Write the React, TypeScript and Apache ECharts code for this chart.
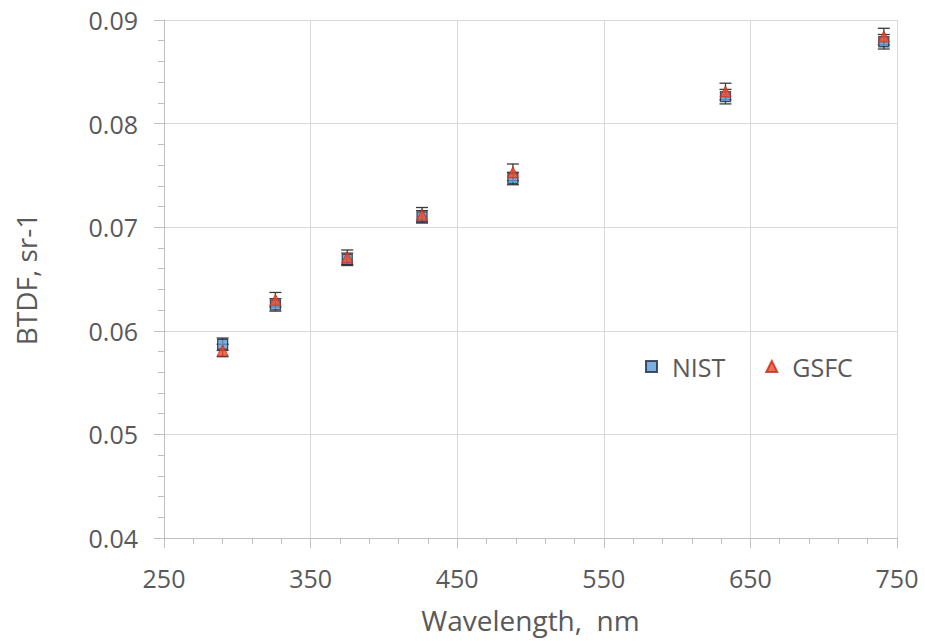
import React, { useEffect, useRef } from "react";
import * as echarts from "echarts";

const wavelengths = [290, 326, 375, 426, 488, 633, 741];
const nistValues = [0.0587, 0.0625, 0.0669, 0.071, 0.0747, 0.0826, 0.0879];
const gsfcValues = [0.0581, 0.063, 0.0671, 0.0712, 0.0753, 0.0831, 0.0884];
const nistUnc = [0.0006, 0.0006, 0.0006, 0.0006, 0.0006, 0.0007, 0.0007];
const gsfcUnc = [0.0006, 0.0007, 0.0007, 0.0007, 0.0008, 0.0008, 0.0008];

const FONT = "'Open Sans', 'Noto Sans', sans-serif";
const TXT = "#595959";

function errorSeries(vals: number[], unc: number[], name: string) {
  return {
    type: "custom",
    name,
    z: 1,
    silent: true,
    data: wavelengths.map((w, i) => [w, vals[i] - unc[i], vals[i] + unc[i]]),
    encode: { x: 0, y: [1, 2] },
    renderItem: (params: any, api: any) => {
      const x = api.value(0);
      const lo = api.coord([x, api.value(1)]);
      const hi = api.coord([x, api.value(2)]);
      const hw = 6;
      const st = { stroke: "#3a3a3a", lineWidth: 1.3 };
      return {
        type: "group",
        children: [
          { type: "line", shape: { x1: hi[0], y1: hi[1], x2: lo[0], y2: lo[1] }, style: st },
          { type: "line", shape: { x1: hi[0] - hw, y1: hi[1], x2: hi[0] + hw, y2: hi[1] }, style: st },
          { type: "line", shape: { x1: lo[0] - hw, y1: lo[1], x2: lo[0] + hw, y2: lo[1] }, style: st },
        ],
      };
    },
  };
}

export default function App() {
  const ref = useRef<HTMLDivElement>(null);
  useEffect(() => {
    if (!ref.current) return;
    const chart = echarts.init(ref.current, null, { renderer: "svg" });
    chart.setOption({
      animation: false,
      backgroundColor: "#ffffff",
      grid: { left: 164, right: 28, top: 20, bottom: 103, containLabel: false },
      legend: {
        data: ["NIST", "GSFC"],
        left: 640,
        top: 349,
        itemWidth: 11,
        itemHeight: 11,
        itemGap: 40,
        textStyle: { fontFamily: FONT, fontSize: 25, color: TXT, padding: [0, 0, 0, 10] },
      },
      xAxis: {
        type: "value",
        min: 250,
        max: 750,
        interval: 100,
        name: "Wavelength,  nm",
        nameLocation: "middle",
        nameGap: 68,
        nameTextStyle: { fontFamily: FONT, fontSize: 28, color: TXT },
        axisLine: { show: true, lineStyle: { color: "#bfbfbf", width: 1 } },
        axisTick: { show: true, length: 10, lineStyle: { color: "#bfbfbf" } },
        minorTick: { show: true, splitNumber: 5, length: 6, lineStyle: { color: "#bfbfbf" } },
        axisLabel: { fontFamily: FONT, fontSize: 25, color: TXT, margin: 27 },
        splitLine: { show: true, lineStyle: { color: "#d9d9d9", width: 1 } },
      },
      yAxis: {
        type: "value",
        min: 0.04,
        max: 0.09,
        interval: 0.01,
        name: "BTDF, sr-1",
        nameLocation: "middle",
        nameGap: 124,
        nameRotate: 90,
        nameTextStyle: { fontFamily: FONT, fontSize: 28, color: TXT },
        axisLine: { show: true, lineStyle: { color: "#bfbfbf", width: 1 } },
        axisTick: { show: true, length: 10, lineStyle: { color: "#bfbfbf" } },
        minorTick: { show: true, splitNumber: 5, length: 6, lineStyle: { color: "#bfbfbf" } },
        axisLabel: {
          fontFamily: FONT,
          fontSize: 25,
          color: TXT,
          margin: 26,
          formatter: (v: number) => v.toFixed(2),
        },
        splitLine: { show: true, lineStyle: { color: "#d9d9d9", width: 1 } },
      },
      series: [
        errorSeries(nistValues, nistUnc, "NIST err"),
        errorSeries(gsfcValues, gsfcUnc, "GSFC err"),
        {
          type: "scatter",
          name: "NIST",
          z: 3,
          symbol: "rect",
          symbolSize: 10,
          itemStyle: { color: "#5b9bd5", borderColor: "#1c2a44", borderWidth: 1.3 },
          data: wavelengths.map((w, i) => [w, nistValues[i]]),
        },
        {
          type: "scatter",
          name: "GSFC",
          z: 4,
          symbol: "triangle",
          symbolSize: 11,
          itemStyle: { color: "#f04a2a", borderColor: "#c62a14", borderWidth: 1 },
          data: wavelengths.map((w, i) => [w, gsfcValues[i]]),
        },
      ],
    });
    return () => chart.dispose();
  }, []);
  return (
    <div
      ref={ref}
      style={{ position: "fixed", left: 0, top: 0, width: 925, height: 641, background: "#fff" }}
    />
  );
}
